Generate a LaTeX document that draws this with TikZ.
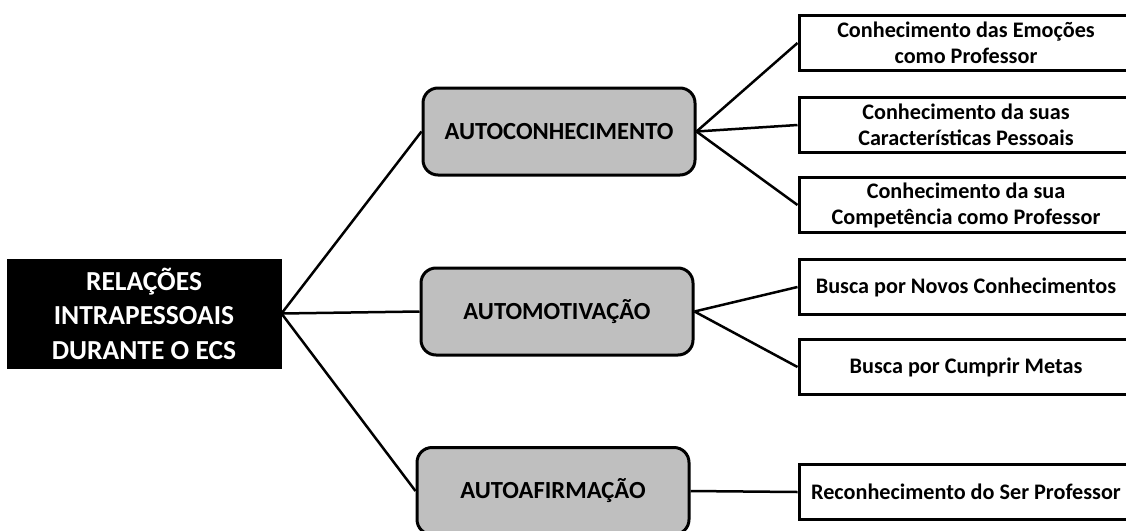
\documentclass[tikz,border=0pt]{standalone}
\usepackage{fontspec}
\setmainfont{Carlito}
\definecolor{boxgray}{HTML}{BFBFBF}
\begin{document}
\begin{tikzpicture}[x=1pt,y=-1pt,
  root/.style={draw=black, fill=black, text=white, line width=1pt,
    minimum width=274pt, minimum height=109pt, inner sep=0pt, align=center,
    font=\fontsize{27.5}{34.5}\selectfont\bfseries},
  branch/.style={draw=black, fill=boxgray, rounded corners=15pt, line width=3pt,
    minimum width=272pt, minimum height=87pt, inner sep=0pt,
    font=\fontsize{24.6}{29}\selectfont\bfseries},
  leaf/.style={draw=black, fill=white, line width=3pt,
    minimum width=334pt, minimum height=55pt, inner sep=0pt, align=center,
    font=\fontsize{22.2}{26}\selectfont\bfseries},
  link/.style={draw=black, line width=2.5pt}]
\useasboundingbox (0,0) rectangle (1126,530);
\clip (0,0) rectangle (1126,530);
\fill[white] (0,0) rectangle (1126,530);

% root
\node[root] (root) at (144,313.5) {RELAÇÕES\\INTRAPESSOAIS\\DURANTE O ECS};

% second level
\node[branch] (conh) at (559,131.5) {AUTOCONHECIMENTO};
\node[branch] (motiv) at (557,311.5) {AUTOMOTIVAÇÃO};
\node[branch] (afirm) at (553,491) {AUTOAFIRMAÇÃO};

% leaves
\node[leaf] (l1) at (966,43) {Conhecimento das Emoções\\como Professor};
\node[leaf] (l2) at (966,125) {Conhecimento da suas\\Características Pessoais};
\node[leaf] (l3) at (966,205) {Conhecimento da sua\\Competência como Professor};
\node[leaf] (l4) at (966,287) {Busca por Novos Conhecimentos};
\node[leaf] (l5) at (966,367) {Busca por Cumprir Metas};
\node[leaf] (l6) at (966,492) {Reconhecimento do Ser Professor};

% connectors
\draw[link] (root.east) -- (conh.west);
\draw[link] (root.east) -- (motiv.west);
\draw[link] (root.east) -- (afirm.west);
\draw[link] (conh.east) -- (l1.west);
\draw[link] (conh.east) -- (l2.west);
\draw[link] (conh.east) -- (l3.west);
\draw[link] (motiv.east) -- (l4.west);
\draw[link] (motiv.east) -- (l5.west);
\draw[link] (afirm.east) -- (l6.west);
\end{tikzpicture}
\end{document}
